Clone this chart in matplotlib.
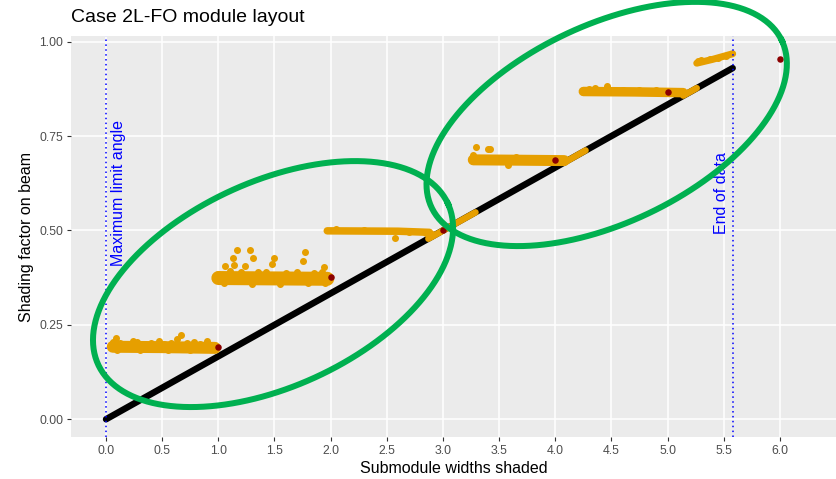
import numpy as np
import matplotlib
matplotlib.use("Agg")
import matplotlib.pyplot as plt

plt.rcParams['font.family'] = ['Liberation Sans', 'DejaVu Sans']

# ---- data ----
# black "linear" reference (start, end of data)
lin_x = [0.0, 5.58]
lin_y = [0.0, 0.93]

# orange stretches that ride on the linear line
ride_x = [[2.87, 3.29], [4.10, 4.27], [5.14, 5.26]]
ride_y = [[0.478, 0.548], [0.683, 0.712], [0.857, 0.877]]

# orange plateaus (core of each cloud)
band_x = [[0.06, 0.50, 0.97], [1.00, 1.50, 1.97], [1.97, 2.60, 2.88],
          [3.27, 3.70, 4.08], [4.25, 4.70, 5.14], [5.26, 5.40, 5.58]]
band_y = [[0.192, 0.191, 0.189], [0.374, 0.373, 0.372], [0.499, 0.498, 0.495],
          [0.687, 0.686, 0.685], [0.868, 0.867, 0.865], [0.943, 0.953, 0.968]]

# individual orange points at the cloud edges
pts_x = [0.06, 0.09, 0.12, 0.17, 0.24, 0.28, 0.33, 0.40, 0.47, 0.52, 0.58, 0.63,
         0.67, 0.72, 0.78, 0.84, 0.90, 0.96, 0.10, 0.30, 0.55, 0.75, 0.92,
         1.00, 1.06, 1.10, 1.13, 1.14, 1.17, 1.20, 1.24, 1.28, 1.31, 1.35, 1.42,
         1.48, 1.50, 1.60, 1.70, 1.75, 1.77, 1.85, 1.92, 1.94, 1.05, 1.30, 1.55,
         1.80, 1.95,
         2.05, 2.30, 2.57, 2.70, 2.85, 2.90,
         3.27, 3.29, 3.40, 3.42, 3.58, 3.35, 3.50, 3.65, 3.80, 3.95,
         4.28, 4.30, 4.35, 4.46, 4.60, 4.75, 4.90, 5.05,
         5.27, 5.30, 5.38, 5.45, 5.52]
pts_y = [0.205, 0.214, 0.203, 0.199, 0.206, 0.205, 0.198, 0.201, 0.207, 0.200, 0.203, 0.213,
         0.223, 0.201, 0.204, 0.199, 0.207, 0.197, 0.183, 0.184, 0.183, 0.184, 0.185,
         0.385, 0.407, 0.392, 0.426, 0.408, 0.447, 0.390, 0.405, 0.448, 0.428, 0.389, 0.390,
         0.411, 0.426, 0.388, 0.390, 0.420, 0.444, 0.388, 0.389, 0.403, 0.360, 0.358, 0.359,
         0.360, 0.360,
         0.503, 0.502, 0.479, 0.497, 0.492, 0.490,
         0.700, 0.722, 0.716, 0.716, 0.673, 0.693, 0.692, 0.694, 0.691, 0.693,
         0.873, 0.874, 0.876, 0.883, 0.872, 0.873, 0.871, 0.870,
         0.948, 0.952, 0.955, 0.958, 0.962]

# maximum-shading points
max_x = [1, 2, 3, 4, 5, 6]
max_y = [0.191, 0.376, 0.500, 0.687, 0.867, 0.953]

# reference lines and their labels
vline_x = [0.0, 5.58]
label_x = [0.107, 5.48]
label_txt = ["Maximum limit angle", "End of data"]

# highlighted regions (centres in data units)
ell_cx = [1.487, 4.458]
ell_cy = [0.358, 0.782]

xticks = [0.0, 0.5, 1.0, 1.5, 2.0, 2.5, 3.0, 3.5, 4.0, 4.5, 5.0, 5.5, 6.0]
yticks = [0.0, 0.25, 0.5, 0.75, 1.0]

ORANGE = '#E69F00'
PX = 0.72  # points per pixel at dpi 100

fig = plt.figure(figsize=(8.36, 4.79), dpi=100)
ax = fig.add_axes([71/836, 42/479, 765/836, 401/479])
ax.set_facecolor('#EBEBEB')
for s in ax.spines.values():
    s.set_visible(False)
ax.set_xlim(-0.312, 6.50)
ax.set_ylim(-0.047, 1.015)
ax.set_xticks(xticks)
ax.set_xticklabels(["%.1f" % v for v in xticks])
ax.set_yticks(yticks)
ax.set_yticklabels(["%.2f" % v for v in yticks])
ax.grid(True, color='white', lw=1.1)
ax.set_axisbelow(True)
ax.tick_params(colors='#333333', labelcolor='#4D4D4D', labelsize=8.8,
               length=3.1, width=0.8, pad=2.4)

ax.plot(lin_x, lin_y, color='black', lw=6.5*PX, solid_capstyle='round', zorder=3)
for xs, ys in zip(ride_x, ride_y):
    ax.plot(xs, ys, color=ORANGE, lw=6.5*PX, solid_capstyle='round', zorder=4)
thick = [12, 14, 7.5, 11, 9.5, 7]
for xs, ys, t in zip(band_x, band_y, thick):
    ax.plot(xs, ys, color=ORANGE, lw=t*PX, solid_capstyle='round', zorder=4)
ax.scatter(pts_x, pts_y, s=(7*PX)**2, color=ORANGE, lw=0, zorder=4)
ax.scatter(max_x, max_y, s=(6.5*PX)**2, color='#8B0000', lw=0, zorder=5)

for vx, lx, t in zip(vline_x, label_x, label_txt):
    ax.axvline(vx, color='blue', lw=1.1, ls=(0, (1, 2.2)), zorder=6)
    ax.text(lx, 0.6, t, rotation=90, color='blue', fontsize=11.5,
            ha='center', va='center', zorder=6)

# ellipses, sized in screen pixels like the original overlay
ell_a = [192.5, 194.0]
ell_b = [102.4, 98.7]
ell_ang = [24.7, 25.5]
t = np.linspace(0, 2*np.pi, 300)
for cx, cy, a, b, ang in zip(ell_cx, ell_cy, ell_a, ell_b, ell_ang):
    th = np.deg2rad(ang)
    c = ax.transData.transform((cx, cy))
    dx = a*np.cos(t)*np.cos(th) - b*np.sin(t)*np.sin(th)
    dy = a*np.cos(t)*np.sin(th) + b*np.sin(t)*np.cos(th)
    pts = ax.transData.inverted().transform(np.column_stack([c[0]+dx, c[1]+dy]))
    ax.plot(pts[:, 0], pts[:, 1], color='#00B050', lw=6*PX, clip_on=False, zorder=7)

ax.set_xlabel("Submodule widths shaded", fontsize=11.5, labelpad=3)
ax.set_ylabel("Shading factor on beam", fontsize=11.5, labelpad=4)
fig.text(71/836, 1 - 17/479, "Case 2L-FO module layout", fontsize=14,
         ha='left', va='center')

fig.savefig("out.png", dpi=100)
